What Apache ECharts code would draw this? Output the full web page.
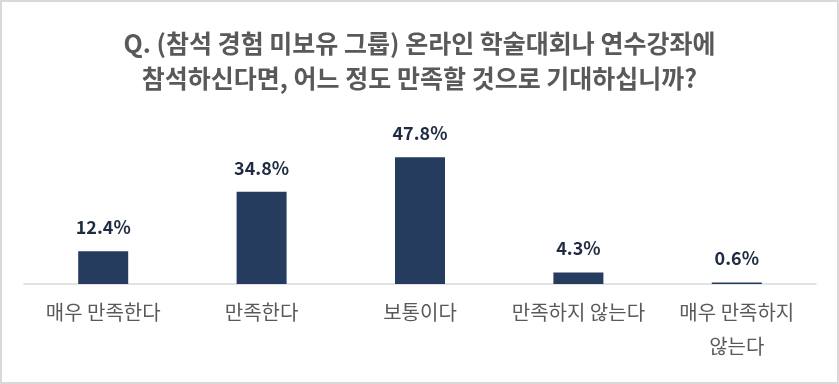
<!DOCTYPE html>
<html><head><meta charset="utf-8">
<script src="https://cdn.jsdelivr.net/npm/echarts@6/dist/echarts.min.js"></script>
<style>html,body{margin:0;padding:0;background:#fff}#c{width:839px;height:384px}</style>
</head><body><div id="c"></div>
<script>
const categories = ['매우 만족한다', '만족한다', '보통이다', '만족하지 않는다', '매우 만족하지\n않는다'];
const values = [12.4, 34.8, 47.8, 4.3, 0.6];
const titleText = 'Q. (참석 경험 미보유 그룹) 온라인 학술대회나 연수강좌에\n참석하신다면, 어느 정도 만족할 것으로 기대하십니까?';
const font = '"Noto Sans CJK KR", "Noto Sans", sans-serif';
const chart = echarts.init(document.getElementById('c'));
chart.setOption({
  backgroundColor: '#fff',
  animation: false,
  title: {
    text: titleText, left: 'center', top: 21,
    textStyle: { fontFamily: font, fontSize: 25, fontWeight: 'bold', color: '#595959', lineHeight: 35 }
  },
  graphic: [{ type: 'rect', shape: { x: 1, y: 1, width: 837, height: 382 }, style: { fill: 'none', stroke: '#d9d9d9', lineWidth: 2 }, silent: true }],
  grid: { left: 24, right: 23, top: 125, bottom: 100 },
  xAxis: {
    type: 'category', data: categories,
    axisLine: { lineStyle: { color: '#d9d9d9', width: 1.5 } },
    axisTick: { show: false },
    axisLabel: { fontFamily: font, fontSize: 20, color: '#595959', margin: 11, lineHeight: 34, interval: 0 }
  },
  yAxis: { type: 'value', min: 0, max: 60, show: false, splitLine: { show: false } },
  series: [{
    type: 'bar', data: values, barWidth: 50,
    itemStyle: { color: '#253c5e' },
    label: { show: true, position: 'top', distance: 15, formatter: p => p.value.toFixed(1) + '%',
      fontFamily: font, fontSize: 18, fontWeight: 'bold', color: '#1e2b40' }
  }]
});
</script></body></html>
